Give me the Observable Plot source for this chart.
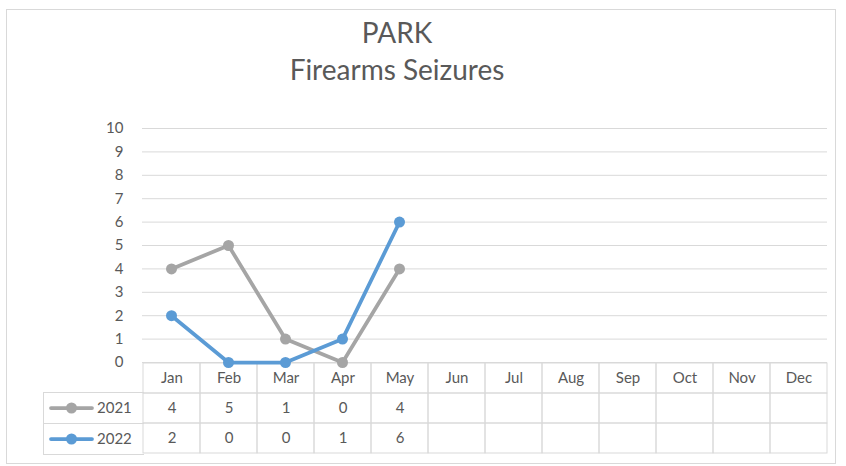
<!DOCTYPE html>
<html>
<head>
<meta charset="utf-8">
<script src="https://cdn.jsdelivr.net/npm/d3@7"></script>
<script src="https://cdn.jsdelivr.net/npm/@observablehq/plot@0.6"></script>
<style>
  html, body { margin: 0; padding: 0; background: #fff; }
  body { width: 846px; height: 466px; position: relative; overflow: hidden; font-family: Lato, "Open Sans", sans-serif; color: #595959; }
  #frame { position: absolute; left: 6px; top: 9px; width: 830px; height: 455px; border: 1px solid #d9d9d9; box-sizing: border-box; }
  #title { position: absolute; left: 197px; width: 400px; top: 14px; text-align: center; font-size: 28px; line-height: 37px; color: #595959; }
  #table { position: absolute; left: 0; top: 361px; }
  #main { position: absolute; left: 0; top: 110px; }
  #legend { position: absolute; left: 43px; top: 392px; width: 100px; height: 63px; box-sizing: border-box; border-left: 1px solid #d9d9d9; }
  .lrow { position: absolute; left: 0; width: 100px; height: 31px; border-top: 1px solid #d9d9d9; box-sizing: border-box; font-size: 15px; }
  .lrow.last { border-bottom: 1px solid #d9d9d9; height: 32px; }
  .lrow svg { position: absolute; left: 4px; top: 8px; }
  .lrow span { position: absolute; left: 53px; top: 5px; }
  svg.plot-svg { background: transparent !important; overflow: visible !important; }
</style>
</head>
<body>
<div id="frame"></div>
<div id="title">PARK<br>Firearms Seizures</div>
<div id="table"></div>
<div id="legend"></div>
<div id="main"></div>
<script>
// ---- data ----
const months = ["Jan","Feb","Mar","Apr","May","Jun","Jul","Aug","Sep","Oct","Nov","Dec"];
const series = ["2021", "2022"];
const values2021 = [4, 5, 1, 0, 4];
const values2022 = [2, 0, 0, 1, 6];
const yTicks = [0,1,2,3,4,5,6,7,8,9,10];
const colors = {"2021": "#a5a5a5", "2022": "#5b9bd5"};

const seriesValues = {"2021": values2021, "2022": values2022};
const points = series.flatMap(s => seriesValues[s].map((v, i) => ({series: s, month: months[i], value: v})));

const W = 846;
const mL = 142, mR = 19;
const textColor = "#595959", gridColor = "#d9d9d9";

// ---- main line chart ----
const main = Plot.plot({
  width: W,
  height: 252,
  marginLeft: mL,
  marginRight: mR,
  marginTop: 18,
  marginBottom: 0,
  style: {fontFamily: "Lato, 'Open Sans', sans-serif", fontSize: "15px", color: textColor, background: "transparent", overflow: "visible"},
  x: {type: "point", domain: months, padding: 0.5, axis: null},
  y: {domain: [0, 10], ticks: yTicks, label: null},
  marks: [
    Plot.ruleY(yTicks, {stroke: gridColor, strokeWidth: 1}),
    Plot.axisY({ticks: yTicks, tickSize: 0, tickPadding: 19, label: null, fill: textColor, fontSize: 15}),
    ...series.map(s => Plot.line(points.filter(d => d.series === s), {x: "month", y: "value", stroke: colors[s], strokeWidth: 3.75, strokeLinejoin: "round", strokeLinecap: "round"})),
    ...series.map(s => Plot.dot(points.filter(d => d.series === s), {x: "month", y: "value", fill: colors[s], r: 5.5, stroke: "none"}))
  ]
});
main.classList.add("plot-svg");
document.getElementById("main").appendChild(main);

// ---- data table (header row + series rows) ----
const rows = ["header", ...series];
const cells = rows.flatMap(r => months.map(m => ({row: r, month: m})));
const headerTexts = months.map(m => ({row: "header", month: m, label: m}));
const valueTexts = points.map(d => ({row: d.series, month: d.month, label: String(d.value)}));

const table = Plot.plot({
  width: W,
  height: 94,
  marginLeft: mL,
  marginRight: mR,
  marginTop: 1,
  marginBottom: 1,
  style: {fontFamily: "Lato, 'Open Sans', sans-serif", fontSize: "15px", background: "transparent", overflow: "visible"},
  x: {type: "band", domain: months, padding: 0, axis: null},
  y: {type: "band", domain: rows, padding: 0, axis: null},
  marks: [
    Plot.cell(cells, {x: "month", y: "row", fill: "none", stroke: gridColor, strokeWidth: 1, inset: 0}),
    Plot.text([...headerTexts, ...valueTexts], {x: "month", y: "row", text: "label", fill: textColor, fontSize: 15})
  ]
});
table.classList.add("plot-svg");
document.getElementById("table").appendChild(table);

// ---- legend column of the data table ----
const legend = document.getElementById("legend");
series.forEach((s, i) => {
  const row = document.createElement("div");
  row.className = "lrow" + (i === series.length - 1 ? " last" : "");
  row.style.top = (i * 31) + "px";
  row.innerHTML = `<svg width="48" height="14"><line x1="3" y1="7" x2="44" y2="7" stroke="${colors[s]}" stroke-width="3.75" stroke-linecap="round"/><circle cx="23.5" cy="7" r="5.5" fill="${colors[s]}"/></svg><span>${s}</span>`;
  legend.appendChild(row);
});
</script>
</body>
</html>
